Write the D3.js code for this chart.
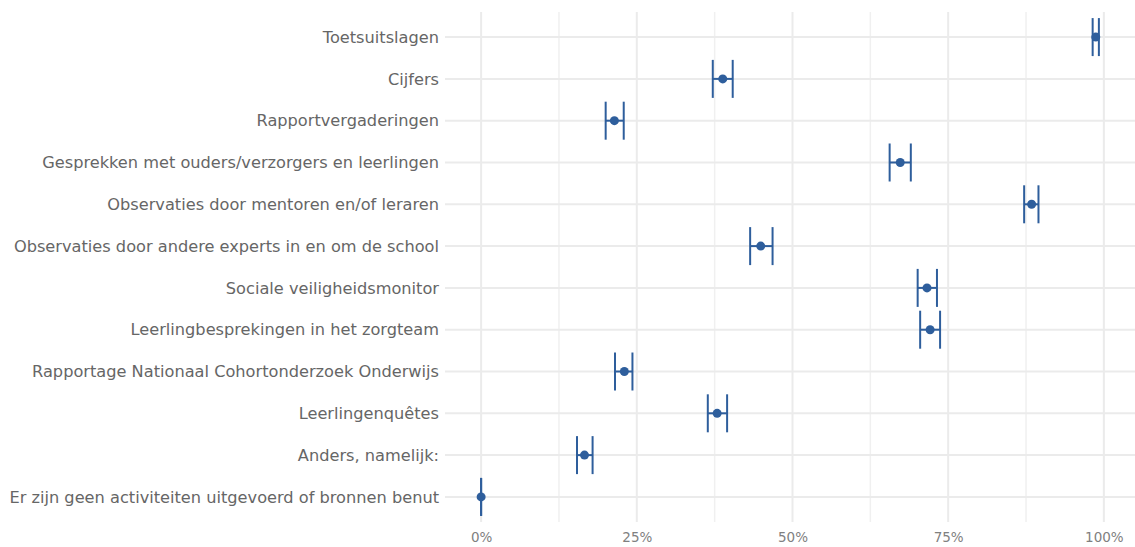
<!DOCTYPE html>
<html>
<head>
<meta charset="utf-8">
<script src="https://cdn.jsdelivr.net/npm/d3@7"></script>
<style>
  body { margin: 0; background: #fff; }
  svg { display: block; }
</style>
</head>
<body>
<svg id="chart"></svg>
<script>
// Categories, top to bottom
var categories = [
  "Toetsuitslagen",
  "Cijfers",
  "Rapportvergaderingen",
  "Gesprekken met ouders/verzorgers en leerlingen",
  "Observaties door mentoren en/of leraren",
  "Observaties door andere experts in en om de school",
  "Sociale veiligheidsmonitor",
  "Leerlingbesprekingen in het zorgteam",
  "Rapportage Nationaal Cohortonderzoek Onderwijs",
  "Leerlingenquêtes",
  "Anders, namelijk:",
  "Er zijn geen activiteiten uitgevoerd of bronnen benut"
];
// percentage estimates with lower/upper bounds
var pointValues = [98.7, 38.8, 21.4, 67.3, 88.4, 44.9, 71.6, 72.1, 23.0, 37.9, 16.6, 0];
var lowerValues = [98.2, 37.2, 20.0, 65.6, 87.2, 43.2, 70.1, 70.5, 21.5, 36.4, 15.4, 0];
var upperValues = [99.2, 40.4, 22.9, 69.0, 89.5, 46.8, 73.2, 73.7, 24.3, 39.5, 17.9, 0];
var majorTicks = [0, 25, 50, 75, 100];
var minorTicks = [12.5, 37.5, 62.5, 87.5];

var svgWidth = 1135;
var svgHeight = 547;
var panel = { left: 445, right: 1135, top: 12, bottom: 522 };
var color = "#2e5e9c";

var svg = d3.select("#chart")
  .attr("width", svgWidth)
  .attr("height", svgHeight);

var rows = categories.map(function (c, i) {
  return { name: c, value: pointValues[i], lo: lowerValues[i], hi: upperValues[i] };
});

var xScale = d3.scaleLinear()
  .domain([-5.8, 105])
  .range([panel.left, panel.right]);

var yScale = d3.scalePoint()
  .domain(categories)
  .range([panel.top, panel.bottom])
  .padding(0.6);

// Grid lines
var grid = svg.append("g");
grid.selectAll(".minor")
  .data(minorTicks)
  .enter()
  .append("line")
  .attr("x1", function (d) { return xScale(d); })
  .attr("x2", function (d) { return xScale(d); })
  .attr("y1", panel.top)
  .attr("y2", panel.bottom)
  .attr("stroke", "#f0f0f0")
  .attr("stroke-width", 1.5);

grid.selectAll(".major")
  .data(majorTicks)
  .enter()
  .append("line")
  .attr("x1", function (d) { return xScale(d); })
  .attr("x2", function (d) { return xScale(d); })
  .attr("y1", panel.top)
  .attr("y2", panel.bottom)
  .attr("stroke", "#ebebeb")
  .attr("stroke-width", 2);

grid.selectAll(".hline")
  .data(categories)
  .enter()
  .append("line")
  .attr("x1", panel.left)
  .attr("x2", panel.right)
  .attr("y1", function (d) { return yScale(d); })
  .attr("y2", function (d) { return yScale(d); })
  .attr("stroke", "#ebebeb")
  .attr("stroke-width", 2);

// Axes
var fontFamily = "'DejaVu Sans', sans-serif";

var yAxis = svg.append("g")
  .attr("transform", "translate(" + panel.left + ",0)")
  .call(d3.axisLeft(yScale).tickSize(0).tickPadding(6));
yAxis.select(".domain").remove();
yAxis.selectAll("text")
  .style("font-family", fontFamily)
  .style("font-size", "16.2px")
  .attr("fill", "#666666");

var xAxis = svg.append("g")
  .attr("transform", "translate(0," + panel.bottom + ")")
  .call(d3.axisBottom(xScale).tickValues(majorTicks).tickSize(0).tickPadding(10)
    .tickFormat(function (d) { return d + "%"; }));
xAxis.select(".domain").remove();
xAxis.selectAll("text")
  .style("font-family", fontFamily)
  .style("font-size", "13.5px")
  .attr("fill", "#808080");

// Error bars
var capHalf = 19;
var marks = svg.append("g");
marks.selectAll(".bar-line")
  .data(rows)
  .enter()
  .append("line")
  .attr("x1", function (d) { return xScale(d.lo); })
  .attr("x2", function (d) { return xScale(d.hi); })
  .attr("y1", function (d) { return yScale(d.name); })
  .attr("y2", function (d) { return yScale(d.name); })
  .attr("stroke", color)
  .attr("stroke-width", 2);

marks.selectAll(".cap-lo")
  .data(rows)
  .enter()
  .append("line")
  .attr("x1", function (d) { return xScale(d.lo); })
  .attr("x2", function (d) { return xScale(d.lo); })
  .attr("y1", function (d) { return yScale(d.name) - capHalf; })
  .attr("y2", function (d) { return yScale(d.name) + capHalf; })
  .attr("stroke", color)
  .attr("stroke-width", 2);

marks.selectAll(".cap-hi")
  .data(rows)
  .enter()
  .append("line")
  .attr("x1", function (d) { return xScale(d.hi); })
  .attr("x2", function (d) { return xScale(d.hi); })
  .attr("y1", function (d) { return yScale(d.name) - capHalf; })
  .attr("y2", function (d) { return yScale(d.name) + capHalf; })
  .attr("stroke", color)
  .attr("stroke-width", 2);

// Points
marks.selectAll(".dot")
  .data(rows)
  .enter()
  .append("circle")
  .attr("cx", function (d) { return xScale(d.value); })
  .attr("cy", function (d) { return yScale(d.name); })
  .attr("r", 4.5)
  .attr("fill", color);
</script>
</body>
</html>
